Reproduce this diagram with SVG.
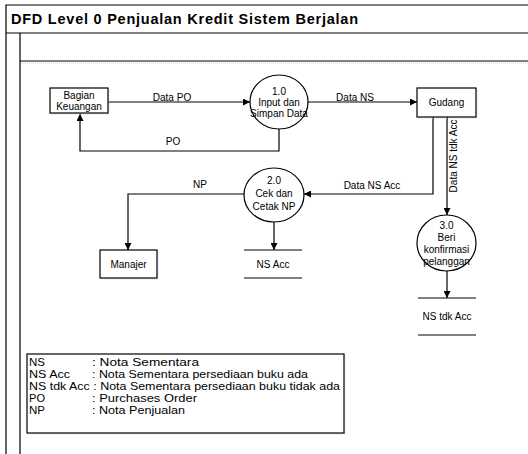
<svg xmlns="http://www.w3.org/2000/svg" width="528" height="454" viewBox="0 0 528 454">
<style>
text{font-family:"Liberation Sans",Arial,sans-serif;fill:#000}
.t{font-size:10px;text-anchor:middle}
.lg{font-size:11px}
.ln{fill:none;stroke:#000;stroke-width:1.2}
.sh{fill:none;stroke:#b8d4ea;stroke-width:1;stroke-dasharray:1 1}
.bx{fill:#fff;stroke:#000;stroke-width:1.2}
</style>
<defs>
<marker id="ar" viewBox="0 0 10 10" refX="10" refY="5" markerWidth="7" markerHeight="7" markerUnits="userSpaceOnUse" orient="auto"><path d="M0,0 L10,5 L0,10 z" fill="#000"/></marker>
</defs>
<rect width="528" height="454" fill="#fff"/>
<g id="frame">
<path class="ln" d="M6,454 V5 H528 M6,33 H528 M20,33 V454 M20,61 H528"/>
<path class="sh" d="M21,63 H528"/>
<text x="11" y="24" font-size="14.5" font-weight="bold" textLength="347" lengthAdjust="spacing">DFD Level 0 Penjualan Kredit Sistem Berjalan</text>
</g>
<g id="connectors">
<path class="ln" d="M108,102 H250" marker-end="url(#ar)"/>
<text class="t" x="172" y="101">Data PO</text>
<path class="ln" d="M279,129 V151 H80 V114" marker-end="url(#ar)"/>
<text class="t" x="173" y="145">PO</text>
<path class="ln" d="M308,102 H417" marker-end="url(#ar)"/>
<text class="t" x="355" y="101">Data NS</text>
<path class="ln" d="M433,117 V194 H304" marker-end="url(#ar)"/>
<text class="t" x="372" y="189">Data NS Acc</text>
<path class="ln" d="M447,117 V215" marker-end="url(#ar)"/>
<text class="t" transform="translate(457,156) rotate(-90)">Data NS tdk Acc</text>
<path class="ln" d="M244,194 H128 V250" marker-end="url(#ar)"/>
<text class="t" x="200" y="188">NP</text>
<path class="ln" d="M274,222 V250" marker-end="url(#ar)"/>
<path class="ln" d="M447,271 V298" marker-end="url(#ar)"/>
</g>
<g id="bagian-keuangan">
<rect class="sh" x="51" y="89" width="58" height="25"/>
<rect class="bx" x="50" y="88" width="58" height="25"/>
<text class="t" x="79" y="99">Bagian</text>
<text class="t" x="79" y="110">Keuangan</text>
</g>
<g id="p1">
<ellipse class="bx" cx="279" cy="102" rx="29" ry="27"/>
<text class="t" x="279" y="95" font-size="9.5">1.0</text>
<text class="t" x="279" y="106" font-size="9.5">Input dan</text>
<text class="t" x="279" y="117" font-size="9.5">Simpan Data</text>
</g>
<g id="gudang">
<rect class="sh" x="418" y="89" width="59" height="29"/>
<rect class="bx" x="417" y="88" width="59" height="29"/>
<text class="t" x="446.5" y="106">Gudang</text>
</g>
<g id="p2">
<ellipse class="bx" cx="274" cy="195" rx="30" ry="27"/>
<text class="t" x="274" y="184">2.0</text>
<text class="t" x="274" y="197">Cek dan</text>
<text class="t" x="274" y="210">Cetak NP</text>
</g>
<g id="manajer">
<rect class="sh" x="101" y="251" width="57" height="28"/>
<rect class="bx" x="100" y="250" width="57" height="28"/>
<text class="t" x="128.5" y="268">Manajer</text>
</g>
<g id="ns-acc">
<path class="ln" d="M244,250 H302 M244,278 H302"/>
<text class="t" x="273" y="268">NS Acc</text>
</g>
<g id="p3">
<ellipse class="bx" cx="446.5" cy="243" rx="29.5" ry="28"/>
<text class="t" x="446.5" y="229">3.0</text>
<text class="t" x="446.5" y="241">Beri</text>
<text class="t" x="446.5" y="253">konfirmasi</text>
<text class="t" x="446.5" y="265">pelanggan</text>
</g>
<g id="ns-tdk-acc">
<path class="ln" d="M418,298 H476 M418,335 H476"/>
<text class="t" x="447" y="320">NS tdk Acc</text>
</g>
<g id="legend">
<rect class="sh" x="28" y="355" width="317" height="79"/>
<rect class="bx" x="27" y="354" width="317" height="79"/>
<text class="lg" x="29" y="366" textLength="16" lengthAdjust="spacingAndGlyphs">NS</text><text class="lg" x="92" y="366" textLength="107" lengthAdjust="spacingAndGlyphs">: Nota Sementara</text>
<text class="lg" x="29" y="378" textLength="41" lengthAdjust="spacingAndGlyphs">NS Acc</text><text class="lg" x="92" y="378" textLength="216" lengthAdjust="spacingAndGlyphs">: Nota Sementara persediaan buku ada</text>
<text class="lg" x="29" y="390" textLength="311" lengthAdjust="spacingAndGlyphs">NS tdk Acc : Nota Sementara persediaan buku tidak ada</text>
<text class="lg" x="29" y="402" textLength="16" lengthAdjust="spacingAndGlyphs">PO</text><text class="lg" x="92" y="402" textLength="105" lengthAdjust="spacingAndGlyphs">: Purchases Order</text>
<text class="lg" x="29" y="414" textLength="16" lengthAdjust="spacingAndGlyphs">NP</text><text class="lg" x="92" y="414" textLength="93" lengthAdjust="spacingAndGlyphs">: Nota Penjualan</text>
</g>
</svg>
